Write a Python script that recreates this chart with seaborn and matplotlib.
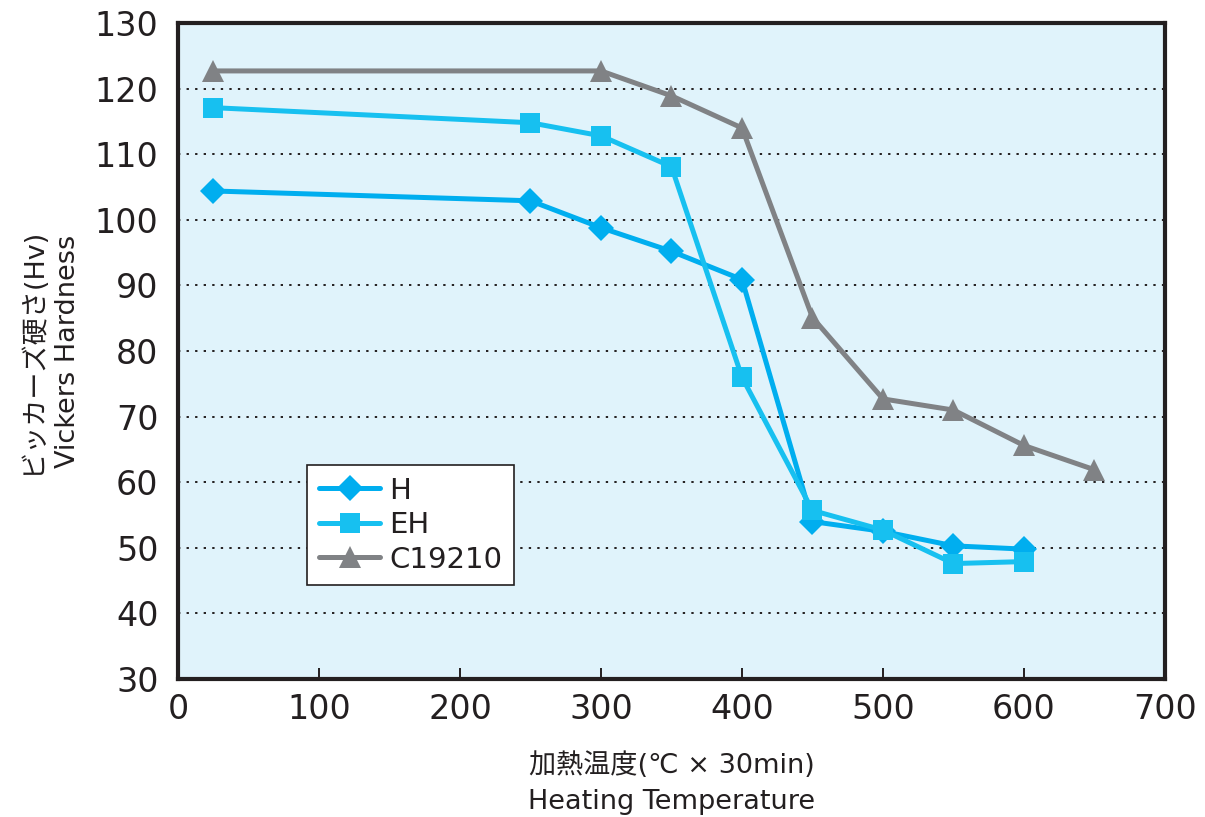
import matplotlib
matplotlib.use("Agg")
import matplotlib.pyplot as plt
import seaborn as sns
import pandas as pd

# ---- data ----
x_h = [25, 250, 300, 350, 400, 450, 500, 550, 600]
y_h = [104.4, 102.9, 98.8, 95.2, 90.9, 54.0, 52.5, 50.3, 49.8]
x_eh = [25, 250, 300, 350, 400, 450, 500, 550, 600]
y_eh = [117.1, 114.8, 112.8, 108.1, 76.0, 55.7, 52.7, 47.6, 47.9]
x_c = [25, 300, 350, 400, 450, 500, 550, 600, 650]
y_c = [122.7, 122.7, 118.9, 114.0, 85.1, 72.7, 71.0, 65.6, 61.9]
series_names = ["H", "EH", "C19210"]
x_ticks = [0, 100, 200, 300, 400, 500, 600, 700]
y_ticks = [30, 40, 50, 60, 70, 80, 90, 100, 110, 120, 130]

sns.set_theme(style="white")
plt.rcParams['font.family'] = ['DejaVu Sans', 'Noto Sans CJK JP']

TXT = "#231F20"
colors = {"H": "#00AEEF", "EH": "#17C0F0", "C19210": "#808285"}
markers = {"H": "D", "EH": "s", "C19210": "^"}
msizes = {"H": 13, "EH": 14, "C19210": 16}

fig = plt.figure(figsize=(12.05, 8.17), dpi=100)
ax = fig.add_axes([0.1477, 0.1689, 0.8191, 0.8029])
ax.set_facecolor("#E0F3FB")

data = {"H": (x_h, y_h), "EH": (x_eh, y_eh), "C19210": (x_c, y_c)}
for name in series_names:
    xs, ys = data[name]
    df = pd.DataFrame({"x": xs, "y": ys})
    sns.lineplot(data=df, x="x", y="y", ax=ax, sort=False, color=colors[name],
                 marker=markers[name], markersize=msizes[name], markeredgewidth=0,
                 linewidth=3.6, label=name, zorder=3)

ax.set_xlim(0, 700)
ax.set_ylim(30, 130)
ax.set_xticks(x_ticks)
ax.set_yticks(y_ticks)
ax.set_xticklabels([str(v) for v in x_ticks])
ax.set_yticklabels([str(v) for v in y_ticks])

for v in y_ticks[1:-1]:
    ax.axhline(v, color="#231F20", linestyle=(0, (1.2, 3.2)), linewidth=1.4, zorder=1)

ax.tick_params(axis="x", direction="in", length=8, width=1.4, color=TXT,
               labelsize=24, labelcolor=TXT, pad=10, bottom=True)
ax.tick_params(axis="y", length=0, labelsize=24, labelcolor=TXT, pad=14, left=False)
for s in ax.spines.values():
    s.set_color(TXT)
    s.set_linewidth(3)

ax.set_xlabel("加熱温度(℃ × 30min)\nHeating Temperature", fontsize=19.5, color=TXT,
              labelpad=19, linespacing=1.5)
ax.set_ylabel("ビッカーズ硬さ(Hv)\nVickers Hardness", fontsize=19.5, color=TXT,
              labelpad=10, linespacing=1.45)

leg = ax.legend(loc="lower left", bbox_to_anchor=(0.131, 0.143), borderaxespad=0,
                fancybox=False, frameon=True, facecolor="white", framealpha=1,
                edgecolor=TXT, fontsize=21, handlelength=2.1, handletextpad=0.3,
                labelspacing=0.22, borderpad=0.4)
leg.get_frame().set_linewidth(1.2)
for t in leg.get_texts():
    t.set_color(TXT)
leg.set_zorder(5)

fig.savefig("out.png", dpi=100)
